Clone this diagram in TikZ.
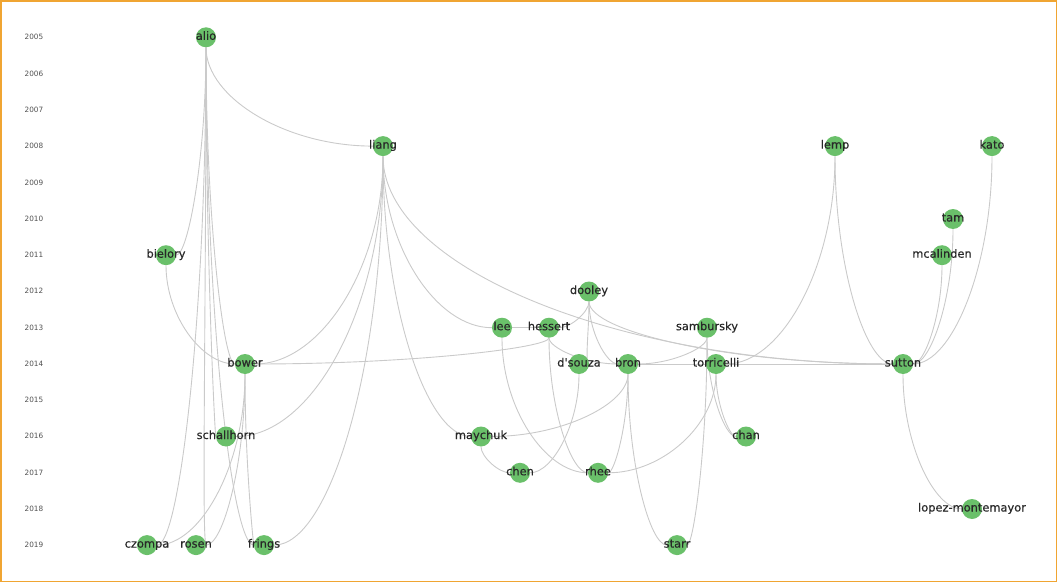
\documentclass[tikz,border=0pt]{standalone}
\usepackage{fontspec}
\setmainfont{DejaVu Sans}
\newfontfamily\lblfont[FakeBold=0.4]{DejaVu Sans}
\usetikzlibrary{calc,backgrounds}
\definecolor{nodegreen}{RGB}{106,192,106}
\definecolor{labelgray}{RGB}{40,40,40}
\definecolor{yeargray}{RGB}{80,80,80}
\definecolor{edgegray}{RGB}{202,202,202}
\definecolor{frameorange}{RGB}{240,165,50}
\tikzset{
  lbl/.style={font=\lblfont\fontsize{11.4}{12}\selectfont, text=labelgray, inner sep=0pt, text height=8pt, text depth=3pt},
  pub/.style={circle, fill=nodegreen, minimum size=20pt, inner sep=0pt, label={[lbl]center:#1}},
  yr/.style={font=\fontsize{7.3}{8}\selectfont, text=yeargray, inner sep=0pt},
  edge/.style={draw=edgegray, line width=0.9pt}
}
\newcommand\lnk[2]{\draw[edge] (#1) .. controls ($(#1)!0.5523!(#1|-#2)$) and ($(#2)!0.5523!(#1|-#2)$) .. (#2);}
\newcommand\lnkh[2]{\draw[edge] (#1) -- (#2);}
\begin{document}
\begin{tikzpicture}[x=1pt,y=-1pt]
\useasboundingbox (0,0) rectangle (1058,583);
\draw[frameorange, line width=1.5pt] (1,1) rectangle (1056.5,581.5);
% year axis
\foreach \k in {0,...,14}{
  \pgfmathtruncatemacro{\yy}{2005+\k}
  \node[yr] (y\yy) at (34,{37.3+36.27*\k}) {\yy};
}
% nodes
\node[pub=alio]       (alio)       at (206,37.3) {};
\node[pub=liang]      (liang)      at (383,146.1) {};
\node[pub=lemp]       (lemp)       at (835,146.1) {};
\node[pub=kato]       (kato)       at (992,146.1) {};
\node[pub=tam]        (tam)        at (953,219) {};
\node[pub=bielory]    (bielory)    at (166,255.2) {};
\node[pub=mcalinden]  (mcalinden)  at (942,255.2) {};
\node[pub=dooley]     (dooley)     at (589,291.5) {};
\node[pub=lee]        (lee)        at (502,327.7) {};
\node[pub=hessert]    (hessert)    at (549,327.7) {};
\node[pub=sambursky]  (sambursky)  at (707,327.7) {};
\node[pub=bower]      (bower)      at (245,364) {};
\node[pub={d'souza}]  (dsouza)     at (579,364) {};
\node[pub=bron]       (bron)       at (628,364) {};
\node[pub=torricelli] (torricelli) at (716,364) {};
\node[pub=sutton]     (sutton)     at (903,364) {};
\node[pub=schallhorn] (schallhorn) at (226,436.5) {};
\node[pub=maychuk]    (maychuk)    at (481,436.5) {};
\node[pub=chan]       (chan)       at (746,436.5) {};
\node[pub=chen]       (chen)       at (520,472.8) {};
\node[pub=rhee]       (rhee)       at (598,472.8) {};
\node[pub=lopez-montemayor] (lopez) at (972,509) {};
\node[pub=czompa]     (czompa)     at (147,545.1) {};
\node[pub=rosen]      (rosen)      at (196,545.1) {};
\node[pub=frings]     (frings)     at (264,545.1) {};
\node[pub=starr]      (starr)      at (677,545.1) {};
% edges
\begin{pgfonlayer}{background}
\lnk{alio}{liang}
\lnk{alio}{bielory}
\lnk{alio}{bower}
\lnk{alio}{schallhorn}
\lnk{alio}{czompa}
\lnk{alio}{rosen}
\lnk{alio}{frings}
\lnk{bielory}{bower}
\lnk{liang}{bower}
\lnk{liang}{schallhorn}
\lnk{liang}{frings}
\lnk{liang}{lee}
\lnk{liang}{maychuk}
\lnk{liang}{sutton}
\lnk{dooley}{hessert}
\lnk{dooley}{dsouza}
\lnk{dooley}{bron}
\lnk{dooley}{sutton}
\lnkh{lee}{hessert}
\lnk{lee}{rhee}
\lnk{hessert}{bower}
\lnk{hessert}{bron}
\lnk{hessert}{rhee}
\lnk{sambursky}{bron}
\lnk{sambursky}{starr}
\lnk{sambursky}{chan}
\lnkh{bron}{torricelli}
\lnk{bron}{maychuk}
\lnk{bron}{rhee}
\lnk{bron}{starr}
\lnk{dsouza}{chen}
\lnkh{torricelli}{sutton}
\lnk{torricelli}{rhee}
\lnk{torricelli}{chan}
\lnk{lemp}{torricelli}
\lnk{lemp}{sutton}
\lnk{kato}{sutton}
\lnk{tam}{sutton}
\lnk{mcalinden}{sutton}
\lnk{sutton}{lopez}
\lnk{maychuk}{chen}
\lnk{bower}{czompa}
\lnk{bower}{rosen}
\lnk{bower}{frings}
\end{pgfonlayer}
\end{tikzpicture}
\end{document}
